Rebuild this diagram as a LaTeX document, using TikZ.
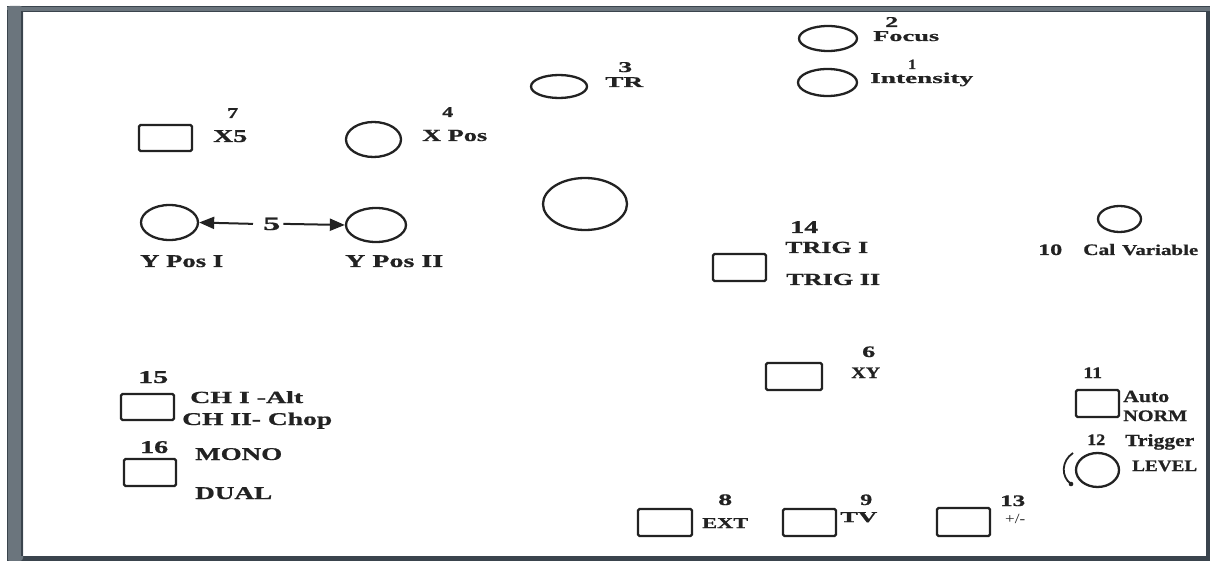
\documentclass[tikz,border=0pt]{standalone}
\usepackage{fontspec}
\setmainfont{Liberation Serif}[BoldFeatures={FakeBold=0.7}]
\usetikzlibrary{shapes.geometric,arrows.meta}
\definecolor{ink}{HTML}{222222}
\definecolor{framedark}{HTML}{3A444D}
\definecolor{framemid}{HTML}{6B757D}
\newcommand\lbl[3]{\resizebox{#2pt}{\height}{\fontsize{#1}{#1}\selectfont\bfseries #3}}
\begin{document}
\begin{tikzpicture}[x=1pt,y=-1pt,
  knob/.style={draw=ink,line width=2.3pt,ellipse,inner sep=0pt},
  btn/.style={draw=ink,line width=2.3pt,rectangle,rounded corners=1.5pt,inner sep=0pt},
  txt/.style={anchor=base west,inner sep=0pt,text=ink},
  arr/.style={draw=ink,line width=2pt,-{Triangle[length=15pt,width=12pt]}}
]
\useasboundingbox (0,0) rectangle (1210,561);
\fill[white] (0,0) rectangle (1210,561);
% frame
\fill[framemid] (7,6) rectangle (1210,12);
\draw[framedark,line width=1.2pt] (7,6.6) -- (1210,6.6);
\draw[framedark,line width=1pt] (22,11.5) -- (1206,11.5);
\fill[framedark] (1206,11) rectangle (1210,561);
\fill[framedark] (7,556) rectangle (1210,561);
\fill[framemid,rounded corners=3pt] (7,6) rectangle (23,561);
\draw[framedark,line width=1.2pt] (7.6,10) -- (7.6,561);
\draw[framedark,line width=1.5pt] (22,11) -- (22,556);

% knobs
\node[knob,minimum width=58pt,minimum height=25pt] (focus) at (828,38.5) {};
\node[knob,minimum width=59pt,minimum height=27pt] (intens) at (827.5,82.5) {};
\node[knob,minimum width=56pt,minimum height=23pt] (tr) at (559,86.5) {};
\node[knob,minimum width=84pt,minimum height=52pt] (big) at (585,204) {};
\node[knob,minimum width=55pt,minimum height=35pt] (xpos) at (373.5,139.5) {};
\node[knob,minimum width=57pt,minimum height=35pt] (ypos1) at (169.5,222.5) {};
\node[knob,minimum width=60pt,minimum height=34pt] (ypos2) at (376,225) {};
\node[knob,minimum width=43pt,minimum height=26pt] (cal) at (1119.5,219) {};
\node[knob,minimum width=43pt,minimum height=34pt] (lev) at (1097.5,470) {};

% buttons
\node[btn,minimum width=53pt,minimum height=26pt] (x5) at (165.5,138) {};
\node[btn,minimum width=53pt,minimum height=27pt] (trig) at (739.5,267.5) {};
\node[btn,minimum width=56pt,minimum height=27pt] (xy) at (794,376.5) {};
\node[btn,minimum width=43pt,minimum height=27pt] (auto) at (1097.5,403.5) {};
\node[btn,minimum width=54pt,minimum height=27pt] (ext) at (665,522.5) {};
\node[btn,minimum width=53pt,minimum height=27pt] (tv) at (809.5,522.5) {};
\node[btn,minimum width=53pt,minimum height=28pt] (pm) at (963.5,522) {};
\node[btn,minimum width=53pt,minimum height=26pt] (ch) at (147.5,407) {};
\node[btn,minimum width=52pt,minimum height=27pt] (mono) at (150,472.5) {};

% labels
\node[txt] (l2) at (885,27) {\lbl{15}{13}{2}};
\node[txt] (lfocus) at (873,41) {\lbl{15}{66}{Focus}};
\node[txt] (l1) at (908,69) {\lbl{14}{8}{1}};
\node[txt] (lint) at (870,83) {\lbl{15}{103}{Intensity}};
\node[txt] (l3) at (618,72) {\lbl{15}{14}{3}};
\node[txt] (ltr) at (605,87) {\lbl{15}{38}{TR}};
\node[txt] (l4) at (442,117) {\lbl{15}{11}{4}};
\node[txt] (lxpos) at (422,141) {\lbl{17}{65}{X Pos}};
\node[txt] (l7) at (227,118) {\lbl{15}{11}{7}};
\node[txt] (lx5) at (213,142) {\lbl{18}{34}{X5}};
\node[txt] (five) at (263,230) {\lbl{19}{17}{5}};
\node[txt] (lyp1) at (140,267) {\lbl{18}{83}{Y Pos I}};
\node[txt] (lyp2) at (345,267) {\lbl{18}{98}{Y Pos II}};
\node[txt] (l14) at (790,233) {\lbl{18}{28}{14}};
\node[txt] (ltrig1) at (785,253) {\lbl{17}{83}{TRIG I}};
\node[txt] (ltrig2) at (786,285) {\lbl{17}{94}{TRIG II}};
\node[txt] (l6) at (862,357) {\lbl{16}{13}{6}};
\node[txt] (lxy) at (851,378) {\lbl{16}{29}{XY}};
\node[txt] (l10) at (1038,255) {\lbl{16}{24}{10}};
\node[txt] (lcal) at (1083,255) {\lbl{16}{32}{Cal}};
\node[txt] (lvar) at (1122,255) {\lbl{15}{76}{Variable}};
\node[txt] (l11) at (1083,378) {\lbl{16}{19}{11}};
\node[txt] (lauto) at (1123,402) {\lbl{17}{46}{Auto}};
\node[txt] (lnorm) at (1123,421) {\lbl{16}{64}{NORM}};
\node[txt] (l12) at (1087,445) {\lbl{16}{18}{12}};
\node[txt] (ltrg) at (1125,446) {\lbl{17}{69}{Trigger}};
\node[txt] (llev) at (1132,471) {\lbl{16}{65}{LEVEL}};
\node[txt] (l8) at (718,505) {\lbl{16}{14}{8}};
\node[txt] (lext) at (702,528) {\lbl{15}{46}{EXT}};
\node[txt] (l9) at (860,505) {\lbl{16}{12}{9}};
\node[txt] (ltv) at (840,522) {\lbl{15}{37}{TV}};
\node[txt] (l13) at (1000,506) {\lbl{16}{25}{13}};
\node[txt] (lpm) at (1005,523) {\lbl{14}{20}{\mdseries +/-}};
\node[txt] (l15) at (138,383) {\lbl{18}{30}{15}};
\node[txt] (lch1) at (190,403) {\lbl{17}{113}{CH I -Alt}};
\node[txt] (lch2) at (182,425) {\lbl{18}{150}{CH II- Chop}};
\node[txt] (l16) at (140,453) {\lbl{18}{28}{16}};
\node[txt] (lmono) at (195,460) {\lbl{18}{87}{MONO}};
\node[txt] (ldual) at (195,499) {\lbl{18}{77}{DUAL}};

% arrows for 5
\draw[arr] ([xshift=-10pt]five.west) -- (ypos1.east);
\draw[arr] ([xshift=3pt]five.east) -- (ypos2.west);

% rotation mark at level knob
\draw[ink,line width=1.8pt] (1073,453) .. controls (1061,461) and (1061,477) .. (1071,484);
\fill[ink] (1071,484) circle (2.3pt);
\end{tikzpicture}
\end{document}
